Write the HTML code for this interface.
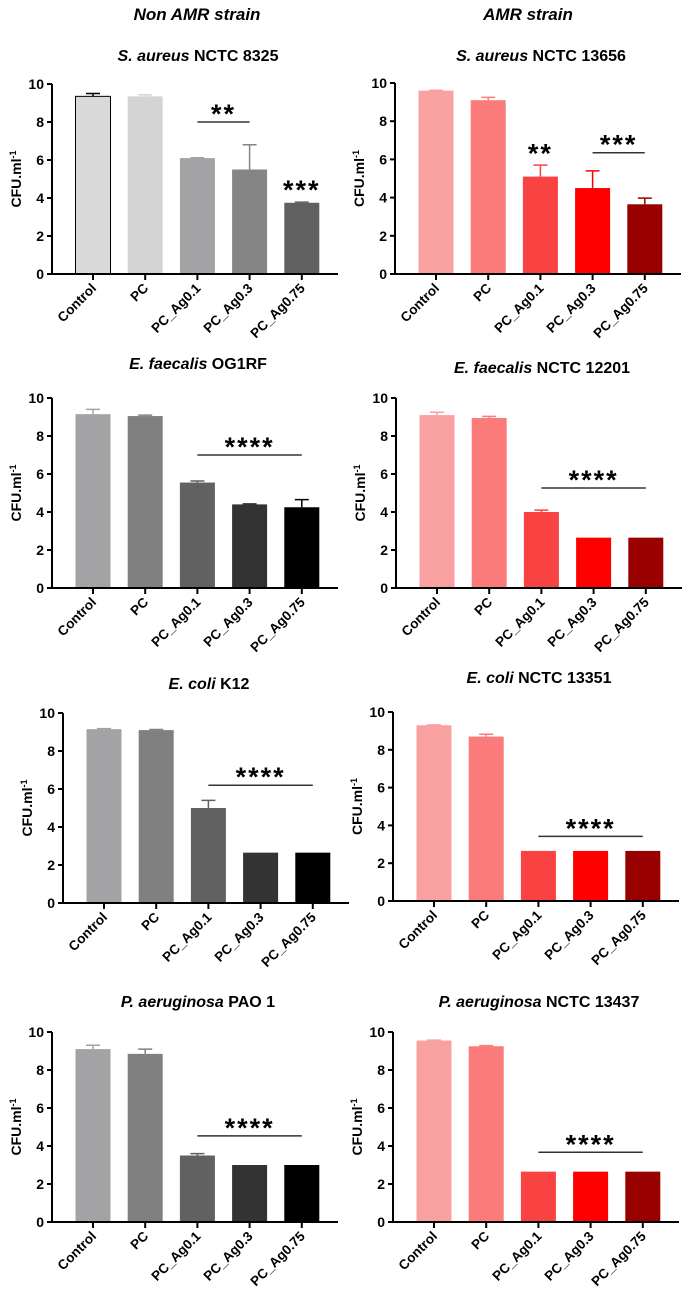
<!DOCTYPE html>
<html><head><meta charset="utf-8"><style>
html,body{margin:0;padding:0;background:#fff;}
svg{display:block;font-family:"Liberation Sans",Arial,sans-serif;}
</style></head><body>
<svg id="fig" width="686" height="1299" viewBox="0 0 686 1299" xmlns="http://www.w3.org/2000/svg">
<text x="197" y="20" text-anchor="middle" font-size="17" font-weight="bold" font-style="italic">Non AMR strain</text>
<text x="528" y="20" text-anchor="middle" font-size="17" font-weight="bold" font-style="italic">AMR strain</text>
</svg>
<script>
const categories = ["Control","PC","PC_Ag0.1","PC_Ag0.3","PC_Ag0.75"];
const yTicks = [0,2,4,6,8,10];
const vSA1 = [9.35,9.35,6.1,5.5,3.75];   const eSA1 = [0.15,0.08,0.02,1.3,0.03];
const vSA2 = [9.6,9.1,5.1,4.5,3.65];     const eSA2 = [0.02,0.15,0.6,0.9,0.32];
const vEF1 = [9.15,9.05,5.55,4.4,4.25];  const eEF1 = [0.25,0.05,0.08,0.03,0.4];
const vEF2 = [9.1,8.95,4.0,2.65,2.65];   const eEF2 = [0.15,0.08,0.1,0,0];
const vEC1 = [9.15,9.1,5.0,2.65,2.65];   const eEC1 = [0.03,0.03,0.4,0,0];
const vEC2 = [9.3,8.7,2.65,2.65,2.65];   const eEC2 = [0.02,0.12,0,0,0];
const vPA1 = [9.1,8.85,3.5,3.0,3.0];     const ePA1 = [0.2,0.25,0.1,0,0];
const vPA2 = [9.55,9.25,2.65,2.65,2.65]; const ePA2 = [0.02,0.03,0,0,0];
const greyA = ["#d9d9d9","#d4d4d4","#a3a3a6","#858585","#606060"];
const greyB = ["#a3a3a6","#808080","#616161","#333333","#000000"];
const reds = ["#f9a0a0","#fb7b7b","#f94343","#ff0000","#990000"];
// significance: [fromIdx,toIdx,lineValue,label,starValue]
const sigSA1 = [[2,3,8.0,"**"],[4,4,null,"***",4.0]];
const sigSA2 = [[2,2,null,"**",5.9],[3,4,6.35,"***"]];
const sigEF1 = [[2,4,7.0,"****"]];
const sigEF2 = [[2,4,5.26,"****"]];
const sigEC1 = [[2,4,6.2,"****"]];
const sigEC2 = [[2,4,3.42,"****"]];
const sigPA1 = [[2,4,4.53,"****"]];
const sigPA2 = [[2,4,3.67,"****"]];

const panels = [
 {name:"s-aureus-8325", sp:"S. aureus", st:" NCTC 8325", ax:52, y0:274, y10:84, ty:61, v:vSA1, e:eSA1, c:greyA, s:sigSA1, outline:true},
 {name:"s-aureus-13656", sp:"S. aureus", st:" NCTC 13656", ax:395, y0:274, y10:83, ty:61, v:vSA2, e:eSA2, c:reds, s:sigSA2},
 {name:"e-faecalis-og1rf", sp:"E. faecalis", st:" OG1RF", ax:52, y0:588, y10:398, ty:369, v:vEF1, e:eEF1, c:greyB, s:sigEF1},
 {name:"e-faecalis-12201", sp:"E. faecalis", st:" NCTC 12201", ax:396, y0:588, y10:398, ty:373, v:vEF2, e:eEF2, c:reds, s:sigEF2},
 {name:"e-coli-k12", sp:"E. coli", st:" K12", ax:63, y0:903, y10:713, ty:689, v:vEC1, e:eEC1, c:greyB, s:sigEC1},
 {name:"e-coli-13351", sp:"E. coli", st:" NCTC 13351", ax:393, y0:901, y10:712, ty:683, v:vEC2, e:eEC2, c:reds, s:sigEC2},
 {name:"p-aeruginosa-pao1", sp:"P. aeruginosa", st:" PAO 1", ax:52, y0:1222, y10:1032, ty:1007, v:vPA1, e:ePA1, c:greyB, s:sigPA1},
 {name:"p-aeruginosa-13437", sp:"P. aeruginosa", st:" NCTC 13437", ax:393, y0:1222, y10:1032, ty:1007, v:vPA2, e:ePA2, c:reds, s:sigPA2}
];
const NS="http://www.w3.org/2000/svg";
const svg=document.getElementById("fig");
function mk(tag,attrs,parent,text){const el=document.createElementNS(NS,tag);for(const k in attrs)el.setAttribute(k,attrs[k]);if(text!==undefined)el.textContent=text;parent.appendChild(el);return el;}
panels.forEach(p=>{
  const g=mk("g",{},svg);
  
  
  const yS=v=>p.y0-(p.y0-p.y10)*v/10;
  const xS=i=>p.ax+41+i*52.2;
  const t=mk("text",{x:p.ax+146,y:p.ty,"text-anchor":"middle","font-size":"16","font-weight":"bold"},g);
  
  
  mk("tspan",{"font-style":"italic"},t,p.sp); mk("tspan",{},t,p.st);
  p.v.forEach((val,i)=>{
    const x=xS(i), w=35, top=yS(val);
    const r=mk("rect",{x:x-w/2,y:top,width:w,height:p.y0-top,fill:p.c[i]},g);
    if(p.outline&&i===0){r.setAttribute("stroke","#000");r.setAttribute("stroke-width","1");}
    
    
    const err=p.e[i];
    if(err>0.01){
      const ec=(p.outline&&i===0)?"#000":p.c[i];
      const yt=yS(val+err);
      const eb=mk("path",{d:`M${x} ${top}V${yt}M${x-7} ${yt}H${x+7}`,stroke:ec,"stroke-width":"1.5",fill:"none"},g);
      
      
    }
    const tk=mk("line",{x1:x,x2:x,y1:p.y0,y2:p.y0+6,stroke:"#000","stroke-width":"2"},g);
    
    
    const lb=mk("text",{x:x+4,y:p.y0+15,"text-anchor":"end","font-size":"13.5","font-weight":"bold",transform:`rotate(-45 ${x+4} ${p.y0+15})`},g,categories[i]);
    
    
  });
  const ya=mk("line",{x1:p.ax,x2:p.ax,y1:p.y10,y2:p.y0+1,stroke:"#000","stroke-width":"2"},g);
  
  
  const xa=mk("line",{x1:p.ax-1,x2:p.ax+286,y1:p.y0,y2:p.y0,stroke:"#000","stroke-width":"2"},g);
  
  
  yTicks.forEach(tv=>{
    const y=yS(tv);
    const tl=mk("line",{x1:p.ax-5,x2:p.ax,y1:y,y2:y,stroke:"#000","stroke-width":"2"},g);
    
    
    const tt=mk("text",{x:p.ax-8,y:y+5,"text-anchor":"end","font-size":"14","font-weight":"bold"},g,String(tv));
    
    
  });
  const cy=(p.y0+p.y10)/2, cx=p.ax-31;
  const yl=mk("text",{x:cx,y:cy,"text-anchor":"middle","font-size":"14","font-weight":"bold",transform:`rotate(-90 ${cx} ${cy})`},g);
  
  
  mk("tspan",{},yl,"CFU.ml"); mk("tspan",{dy:"-5","font-size":"9"},yl,"-1");
  p.s.forEach(s=>{
    let sx, sy;
    if(s[2]!==null){
      const x1=xS(s[0]), x2=xS(s[1]), ly=yS(s[2]);
      const sl=mk("line",{x1:x1,x2:x2,y1:ly,y2:ly,stroke:"#333","stroke-width":"1.5"},g);
      
      
      sx=(x1+x2)/2; sy=ly;
    } else { sx=xS(s[0]); sy=yS(s[4]); }
    const st=mk("text",{x:sx,y:sy+1,"text-anchor":"middle","font-size":"27","font-weight":"bold","letter-spacing":"2"},g,s[3]);
    
    
  });
});
</script>
</body></html>
